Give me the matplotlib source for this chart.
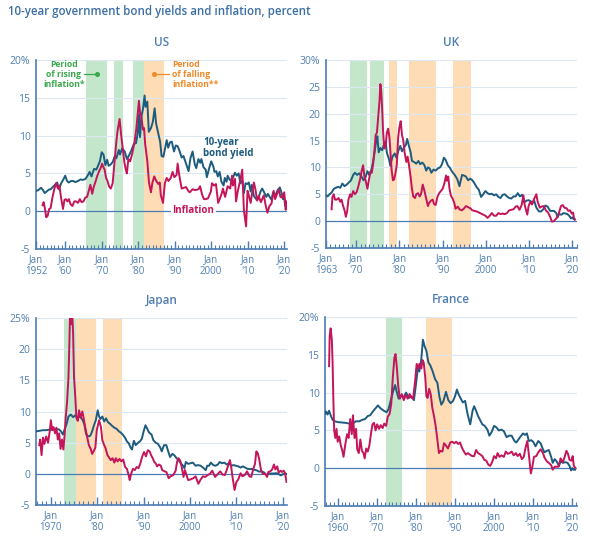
import matplotlib
matplotlib.use("Agg")
import matplotlib.pyplot as plt
from matplotlib.ticker import MultipleLocator

plt.rcParams['font.family'] = ['Open Sans', 'DejaVu Sans']

# ================= COLOURS =================
YIELD_C = "#1d5b7f"
INFL_C = "#c4145a"
GREEN_C = "#c4e7cb"
ORANGE_C = "#fddcb6"
AXIS_C = "#4b7cb3"
GRID_C = "#dde7f2"
TEXT_C = "#4f7eb2"

# ================= DATA =================
# (year, percent) points
us_yield = [(1952.0, 2.7), (1952.5, 2.75), (1953.4, 3.1), (1953.9, 2.8), (1954.4, 2.4), (1954.9, 2.6),
            (1955.5, 2.85), (1956.0, 2.9), (1956.6, 3.2), (1957.2, 3.5), (1957.8, 3.8), (1958.3, 2.9),
            (1958.9, 3.7), (1959.5, 4.2), (1960.0, 4.7), (1960.5, 4.0), (1961.0, 3.8), (1961.6, 4.0),
            (1962.2, 4.0), (1962.8, 3.85), (1963.5, 4.0), (1964.2, 4.2), (1964.8, 4.15), (1965.5, 4.25),
            (1966.0, 4.6), (1966.7, 5.2), (1967.2, 4.6), (1967.9, 5.6), (1968.5, 5.5), (1968.9, 5.9),
            (1969.5, 6.6), (1970.0, 7.8), (1970.5, 7.5), (1971.0, 6.1), (1971.5, 6.8), (1971.9, 6.0),
            (1972.5, 6.2), (1973.0, 6.5), (1973.6, 7.3), (1974.0, 7.0), (1974.7, 8.1), (1975.0, 7.5),
            (1975.6, 8.3), (1976.3, 7.9), (1976.9, 6.9), (1977.5, 7.4), (1978.0, 7.9), (1978.8, 8.9),
            (1979.4, 9.0), (1979.9, 10.4), (1980.2, 12.8), (1980.5, 9.8), (1980.9, 12.6), (1981.3, 13.5),
            (1981.75, 15.3), (1982.0, 13.8), (1982.5, 14.5), (1982.9, 10.5), (1983.5, 11.0), (1984.0, 11.8),
            (1984.5, 13.6), (1984.9, 11.6), (1985.5, 10.3), (1986.0, 9.2), (1986.4, 7.3), (1986.9, 7.2),
            (1987.4, 8.4), (1987.8, 9.4), (1988.2, 8.4), (1988.7, 9.1), (1989.2, 9.2), (1989.8, 7.9),
            (1990.3, 8.7), (1990.8, 8.6), (1991.3, 8.0), (1991.9, 7.1), (1992.4, 7.3), (1992.9, 6.6),
            (1993.5, 5.8), (1993.8, 5.3), (1994.3, 7.0), (1994.9, 7.9), (1995.5, 6.2), (1995.9, 5.7),
            (1996.5, 6.9), (1997.0, 6.4), (1997.3, 6.9), (1997.9, 5.8), (1998.5, 5.5), (1998.8, 4.5),
            (1999.5, 5.8), (2000.0, 6.6), (2000.6, 5.9), (2000.9, 5.2), (2001.4, 5.3), (2001.8, 4.6),
            (2002.3, 5.2), (2002.8, 3.9), (2003.4, 3.4), (2003.7, 4.4), (2004.2, 3.9), (2004.5, 4.7),
            (2005.0, 4.2), (2005.5, 4.0), (2006.0, 4.5), (2006.5, 5.1), (2007.0, 4.7), (2007.5, 5.0),
            (2008.0, 3.7), (2008.5, 4.1), (2008.95, 2.4), (2009.4, 3.7), (2009.9, 3.6), (2010.3, 3.8),
            (2010.8, 2.6), (2011.1, 3.5), (2011.7, 2.0), (2012.5, 1.5), (2012.9, 1.7), (2013.5, 2.6),
            (2013.95, 3.0), (2014.5, 2.5), (2015.1, 1.9), (2015.5, 2.3), (2016.5, 1.5), (2016.95, 2.5),
            (2017.7, 2.2), (2018.2, 2.8), (2018.8, 3.15), (2019.3, 2.4), (2019.65, 1.6), (2020.0, 1.8),
            (2020.25, 0.7), (2020.5, 0.65)]

us_infl = [(1953.8, 0.8), (1954.1, 1.2), (1954.5, 0.2), (1954.8, -0.8), (1955.2, -0.6), (1955.6, 0.3),
           (1956.0, 0.4), (1956.5, 1.8), (1957.0, 2.9), (1957.5, 3.7), (1958.0, 3.0), (1958.4, 3.4),
           (1958.9, 1.7), (1959.4, 0.3), (1959.8, 1.5), (1960.2, 1.6), (1960.6, 1.3), (1961.0, 1.6),
           (1961.5, 0.9), (1962.0, 0.7), (1962.5, 1.3), (1963.0, 1.3), (1963.5, 1.1), (1964.0, 1.6),
           (1964.5, 1.2), (1965.0, 1.3), (1965.5, 1.8), (1966.0, 1.9), (1966.5, 2.8), (1966.9, 3.5),
           (1967.4, 2.3), (1967.8, 3.2), (1968.3, 3.9), (1968.8, 4.7), (1969.3, 5.3), (1969.8, 5.8),
           (1970.1, 6.3), (1970.5, 5.8), (1970.8, 5.5), (1971.2, 4.4), (1971.6, 4.0), (1972.0, 3.3),
           (1972.5, 3.0), (1973.0, 3.7), (1973.4, 5.8), (1973.7, 7.5), (1973.95, 8.9), (1974.3, 10.5),
           (1974.9, 12.2), (1975.3, 10.2), (1975.7, 8.6), (1976.2, 6.5), (1976.6, 5.5), (1976.9, 5.0),
           (1977.3, 6.9), (1977.8, 6.6), (1978.3, 7.5), (1978.95, 9.0), (1979.5, 11.0), (1979.95, 13.3),
           (1980.2, 14.6), (1980.5, 13.0), (1980.8, 12.7), (1981.3, 10.8), (1981.6, 11.0), (1981.9, 8.9),
           (1982.5, 6.6), (1982.95, 3.8), (1983.5, 2.5), (1983.9, 3.8), (1984.4, 4.6), (1984.95, 4.0),
           (1985.5, 3.6), (1985.9, 3.8), (1986.2, 2.1), (1986.8, 1.1), (1987.3, 3.7), (1987.8, 4.4),
           (1988.3, 4.0), (1988.9, 4.4), (1989.4, 5.2), (1989.9, 4.5), (1990.5, 4.8), (1990.8, 6.3),
           (1991.2, 4.9), (1991.9, 3.0), (1992.5, 3.1), (1993.1, 3.2), (1993.7, 2.7), (1994.1, 2.5),
           (1994.9, 2.9), (1995.6, 2.8), (1996.5, 2.9), (1996.95, 3.3), (1997.5, 2.2), (1998.0, 1.6),
           (1998.5, 1.6), (1999.1, 1.7), (1999.9, 2.6), (2000.2, 3.7), (2000.8, 3.4), (2001.3, 3.6),
           (2001.9, 1.1), (2002.4, 1.7), (2002.9, 2.4), (2003.2, 3.0), (2003.8, 1.9), (2004.5, 3.3),
           (2005.2, 3.0), (2005.7, 4.7), (2005.95, 3.4), (2006.5, 4.3), (2006.8, 1.3), (2007.3, 2.7),
           (2007.95, 4.1), (2008.5, 5.5), (2008.95, 0.1), (2009.55, -2.0), (2009.95, 2.7), (2010.3, 2.1),
           (2010.8, 1.1), (2011.3, 2.7), (2011.7, 3.8), (2012.1, 2.9), (2012.6, 1.4), (2013.0, 2.0),
           (2013.6, 1.2), (2014.4, 2.1), (2014.9, 0.8), (2015.4, -0.2), (2015.95, 0.7), (2016.5, 1.0),
           (2017.1, 2.7), (2017.5, 1.6), (2017.95, 2.2), (2018.5, 2.9), (2018.95, 1.9), (2019.5, 1.8),
           (2020.0, 2.5), (2020.4, 0.2), (2020.65, 1.3)]

uk_yield = [(1963.0, 4.8), (1963.4, 4.6), (1963.8, 5.0), (1964.3, 5.3), (1964.8, 6.0), (1965.3, 6.2),
            (1965.8, 6.4), (1966.3, 6.2), (1966.8, 7.0), (1967.3, 6.5), (1967.8, 6.8), (1968.3, 7.2),
            (1968.8, 7.6), (1969.3, 8.6), (1969.7, 9.0), (1970.2, 8.6), (1970.7, 8.9), (1971.2, 8.3),
            (1971.7, 7.6), (1972.2, 8.3), (1972.6, 9.3), (1973.0, 8.6), (1973.5, 9.5), (1973.9, 11.0),
            (1974.2, 12.5), (1974.6, 14.8), (1974.9, 15.8), (1975.2, 12.8), (1975.6, 13.6), (1976.0, 13.2),
            (1976.4, 14.2), (1976.8, 14.8), (1977.1, 12.7), (1977.6, 11.5), (1977.9, 10.3), (1978.4, 12.0),
            (1978.9, 12.6), (1979.3, 11.8), (1979.8, 13.2), (1980.2, 14.0), (1980.6, 13.0), (1981.0, 13.6),
            (1981.5, 14.2), (1981.8, 15.3), (1982.2, 14.0), (1982.6, 12.8), (1982.9, 11.2), (1983.4, 11.0),
            (1983.9, 10.7), (1984.4, 11.2), (1984.8, 10.6), (1985.3, 10.9), (1985.8, 10.4), (1986.2, 9.4),
            (1986.6, 10.0), (1987.0, 9.8), (1987.4, 9.0), (1987.9, 9.6), (1988.4, 9.4), (1988.9, 9.8),
            (1989.4, 10.0), (1989.8, 10.5), (1990.3, 11.8), (1990.7, 11.4), (1991.2, 10.4), (1991.7, 9.9),
            (1992.2, 9.2), (1992.8, 8.6), (1993.4, 7.8), (1993.9, 6.5), (1994.5, 8.6), (1994.9, 8.5),
            (1995.4, 8.3), (1995.9, 7.6), (1996.4, 7.9), (1996.9, 7.6), (1997.4, 7.0), (1997.9, 6.3),
            (1998.4, 5.8), (1998.9, 4.5), (1999.4, 5.0), (1999.9, 5.6), (2000.4, 5.2), (2000.9, 5.0),
            (2001.4, 5.1), (2001.9, 4.8), (2002.4, 5.0), (2002.9, 4.5), (2003.4, 4.3), (2003.9, 4.9),
            (2004.4, 5.0), (2004.9, 4.6), (2005.4, 4.3), (2005.9, 4.2), (2006.4, 4.6), (2006.9, 4.6),
            (2007.4, 5.2), (2007.9, 4.6), (2008.4, 4.9), (2008.9, 3.5), (2009.4, 3.8), (2009.9, 3.9),
            (2010.4, 3.7), (2010.8, 3.4), (2011.2, 3.8), (2011.7, 2.5), (2012.3, 1.8), (2012.8, 1.8),
            (2013.3, 2.2), (2013.8, 2.9), (2014.3, 2.7), (2014.9, 1.9), (2015.3, 1.9), (2015.8, 1.9),
            (2016.3, 1.5), (2016.6, 0.7), (2016.95, 1.3), (2017.5, 1.2), (2018.0, 1.5), (2018.5, 1.4),
            (2018.9, 1.3), (2019.4, 0.9), (2019.7, 0.5), (2020.0, 0.7), (2020.3, 0.4), (2020.6, 0.3)]

uk_infl = [(1964.3, 2.2), (1964.5, 4.5), (1964.8, 5.0), (1965.1, 4.0), (1965.5, 4.0), (1965.9, 4.3),
           (1966.3, 3.6), (1966.6, 4.0), (1966.9, 3.0), (1967.3, 2.0), (1967.6, 0.8), (1967.9, 1.8),
           (1968.2, 4.0), (1968.6, 5.0), (1968.9, 4.5), (1969.3, 5.6), (1969.7, 5.0), (1970.1, 5.4),
           (1970.5, 6.5), (1970.9, 7.8), (1971.3, 9.5), (1971.6, 10.4), (1971.9, 8.2), (1972.2, 7.5),
           (1972.6, 6.0), (1972.9, 7.5), (1973.3, 9.2), (1973.6, 9.0), (1973.9, 10.5), (1974.2, 13.0),
           (1974.5, 16.0), (1974.8, 16.5), (1975.1, 19.5), (1975.4, 22.5), (1975.6, 25.5), (1975.8, 24.0),
           (1976.0, 21.0), (1976.2, 17.0), (1976.5, 13.5), (1976.8, 14.0), (1977.1, 16.5), (1977.4, 17.2),
           (1977.7, 15.5), (1977.9, 13.0), (1978.2, 9.5), (1978.5, 7.6), (1978.8, 7.8), (1979.1, 9.0),
           (1979.4, 10.5), (1979.7, 15.5), (1980.0, 17.5), (1980.3, 18.6), (1980.6, 16.0), (1980.9, 15.0),
           (1981.2, 12.8), (1981.6, 11.0), (1981.9, 12.0), (1982.2, 10.5), (1982.6, 8.2), (1982.9, 6.0),
           (1983.2, 4.6), (1983.6, 4.3), (1983.9, 5.0), (1984.3, 5.2), (1984.7, 4.6), (1985.0, 5.0),
           (1985.4, 6.8), (1985.8, 5.6), (1986.2, 4.2), (1986.6, 2.8), (1986.9, 3.4), (1987.3, 3.8),
           (1987.7, 4.0), (1988.0, 3.2), (1988.4, 3.0), (1988.8, 4.5), (1989.2, 5.2), (1989.6, 5.6),
           (1990.0, 6.0), (1990.4, 7.0), (1990.8, 8.5), (1991.0, 7.5), (1991.3, 8.3), (1991.6, 6.0),
           (1991.9, 4.8), (1992.3, 4.2), (1992.7, 3.4), (1993.0, 2.3), (1993.5, 2.7), (1993.9, 2.2),
           (1994.4, 2.0), (1994.9, 2.3), (1995.4, 2.8), (1995.9, 2.6), (1996.4, 2.4), (1996.9, 2.0),
           (1997.4, 1.9), (1997.9, 1.8), (1998.4, 1.6), (1998.9, 1.4), (1999.4, 1.2), (1999.9, 1.0),
           (2000.4, 0.6), (2000.9, 1.0), (2001.4, 1.5), (2001.9, 1.0), (2002.4, 1.0), (2002.9, 1.5),
           (2003.4, 1.3), (2003.9, 1.4), (2004.4, 1.3), (2004.9, 1.5), (2005.4, 2.0), (2005.9, 2.1),
           (2006.4, 2.2), (2006.9, 2.7), (2007.3, 2.8), (2007.8, 2.1), (2008.3, 3.0), (2008.7, 4.8),
           (2009.0, 3.0), (2009.6, 1.2), (2009.9, 2.8), (2010.3, 3.6), (2010.7, 3.1), (2011.1, 4.0),
           (2011.7, 5.0), (2012.0, 3.6), (2012.5, 2.5), (2012.9, 2.7), (2013.4, 2.8), (2013.9, 2.0),
           (2014.4, 1.6), (2014.9, 0.8), (2015.3, -0.1), (2015.8, 0.0), (2016.2, 0.4), (2016.6, 0.8),
           (2016.95, 1.6), (2017.4, 2.8), (2017.8, 3.0), (2018.2, 2.5), (2018.7, 2.4), (2019.1, 1.9),
           (2019.5, 2.0), (2019.9, 1.4), (2020.2, 1.6), (2020.4, 0.6), (2020.6, 0.3)]

jp_yield = [(1966.8, 6.8), (1967.5, 6.9), (1968.3, 7.0), (1969.0, 7.0), (1969.8, 7.1), (1970.5, 7.1),
            (1971.2, 7.2), (1971.8, 7.1), (1972.2, 6.8), (1972.6, 6.3), (1973.0, 7.2), (1973.4, 8.0),
            (1973.8, 9.2), (1974.3, 9.5), (1974.8, 9.1), (1975.3, 9.4), (1975.8, 9.0), (1976.3, 9.2),
            (1976.8, 8.7), (1977.2, 8.0), (1977.6, 6.4), (1978.0, 6.0), (1978.5, 6.1), (1978.9, 6.8),
            (1979.3, 7.8), (1979.7, 8.6), (1980.1, 10.2), (1980.4, 9.2), (1980.7, 8.8), (1981.1, 9.2),
            (1981.5, 8.4), (1981.9, 8.9), (1982.3, 8.3), (1982.8, 8.0), (1983.2, 7.7), (1983.7, 7.4),
            (1984.2, 7.2), (1984.7, 6.8), (1985.1, 6.6), (1985.5, 6.3), (1986.0, 5.8), (1986.4, 5.2),
            (1986.8, 4.9), (1987.2, 4.2), (1987.5, 3.9), (1987.9, 5.3), (1988.3, 4.6), (1988.8, 5.0),
            (1989.2, 5.2), (1989.6, 5.6), (1990.0, 6.8), (1990.4, 7.8), (1990.8, 7.2), (1991.2, 6.6),
            (1991.7, 6.3), (1992.1, 5.4), (1992.6, 5.0), (1993.1, 4.8), (1993.6, 4.2), (1993.9, 3.6),
            (1994.4, 4.6), (1994.9, 4.6), (1995.3, 3.6), (1995.7, 2.7), (1996.2, 3.2), (1996.6, 3.0),
            (1997.0, 2.6), (1997.5, 2.2), (1998.0, 1.7), (1998.5, 1.3), (1998.8, 0.9), (1999.1, 1.9),
            (1999.6, 1.6), (2000.1, 1.7), (2000.6, 1.8), (2001.2, 1.3), (2001.7, 1.4), (2002.3, 1.3),
            (2002.8, 1.0), (2003.4, 0.6), (2003.7, 1.3), (2004.1, 1.3), (2004.5, 1.8), (2005.0, 1.4),
            (2005.5, 1.3), (2006.0, 1.5), (2006.4, 1.9), (2006.9, 1.7), (2007.4, 1.8), (2007.9, 1.5),
            (2008.4, 1.7), (2008.9, 1.3), (2009.4, 1.4), (2009.9, 1.3), (2010.4, 1.2), (2010.9, 1.0),
            (2011.4, 1.2), (2011.9, 1.0), (2012.4, 0.8), (2012.9, 0.75), (2013.4, 0.8), (2013.9, 0.65),
            (2014.4, 0.55), (2014.9, 0.35), (2015.4, 0.4), (2015.9, 0.25), (2016.3, -0.05), (2016.6, -0.2),
            (2016.95, 0.05), (2017.5, 0.05), (2018.0, 0.05), (2018.6, 0.1), (2019.0, 0.0), (2019.6, -0.25),
            (2020.0, -0.05), (2020.4, 0.0), (2020.8, 0.0)]

jp_infl = [(1967.5, 4.6), (1967.7, 5.5), (1968.0, 3.0), (1968.3, 5.8), (1968.6, 4.8), (1969.0, 6.0),
           (1969.4, 5.0), (1969.8, 7.0), (1970.0, 8.6), (1970.3, 7.0), (1970.6, 7.5), (1970.9, 6.5),
           (1971.2, 7.4), (1971.5, 5.5), (1971.8, 6.5), (1972.1, 4.0), (1972.4, 5.5), (1972.7, 3.9),
           (1973.0, 6.5), (1973.2, 9.0), (1973.5, 11.5), (1973.8, 15.5), (1974.0, 21.0), (1974.15, 26.0),
           (1974.4, 24.0), (1974.6, 26.0), (1974.8, 22.5), (1975.0, 15.5), (1975.3, 12.0), (1975.5, 9.0),
           (1975.8, 8.5), (1976.1, 10.2), (1976.4, 9.0), (1976.8, 10.0), (1977.1, 8.8), (1977.4, 7.5),
           (1977.8, 6.0), (1978.2, 4.6), (1978.6, 4.0), (1978.9, 3.2), (1979.2, 3.6), (1979.6, 4.2),
           (1979.9, 7.0), (1980.2, 8.0), (1980.4, 8.6), (1980.8, 7.5), (1981.1, 5.4), (1981.5, 4.6),
           (1981.8, 4.1), (1982.2, 3.0), (1982.5, 2.7), (1982.9, 2.2), (1983.3, 2.5), (1983.7, 1.8),
           (1984.0, 2.5), (1984.4, 2.0), (1984.8, 2.4), (1985.2, 2.0), (1985.6, 2.3), (1986.0, 1.1),
           (1986.4, 0.8), (1986.8, -0.3), (1987.0, -1.0), (1987.3, 0.0), (1987.7, 0.8), (1988.1, 0.6),
           (1988.5, 1.1), (1988.9, 0.9), (1989.3, 1.7), (1989.7, 2.8), (1990.1, 3.5), (1990.5, 2.8),
           (1990.9, 3.8), (1991.3, 3.6), (1991.6, 3.0), (1991.9, 2.6), (1992.3, 1.9), (1992.6, 1.7),
           (1992.9, 1.2), (1993.3, 1.5), (1993.7, 1.3), (1994.0, 0.6), (1994.5, 0.4), (1994.9, 0.3),
           (1995.4, -0.7), (1995.8, -0.4), (1996.4, -0.2), (1996.9, 0.5), (1997.2, 1.9), (1997.5, 2.5),
           (1997.9, 2.1), (1998.2, 1.1), (1998.6, -0.5), (1998.9, 0.6), (1999.3, -0.3), (1999.6, -1.0),
           (2000.1, -0.9), (2000.7, -0.7), (2001.2, -0.4), (2001.8, -1.6), (2002.3, -0.9), (2002.8, -0.4),
           (2003.3, -0.5), (2003.8, -0.2), (2004.3, 0.0), (2004.8, 0.5), (2005.4, -0.5), (2005.9, -0.1),
           (2006.5, 0.4), (2007.0, -0.1), (2007.5, -0.2), (2007.9, 0.6), (2008.3, 1.5), (2008.6, 2.2),
           (2008.9, 1.0), (2009.1, -0.2), (2009.6, -2.6), (2010.0, -1.3), (2010.4, -0.9), (2010.9, 0.1),
           (2011.3, -0.4), (2011.8, -0.2), (2012.3, 0.4), (2012.8, -0.4), (2013.2, -0.5), (2013.6, 0.7),
           (2014.0, 1.6), (2014.3, 3.6), (2014.6, 3.3), (2014.9, 2.4), (2015.3, 0.6), (2015.7, 0.0),
           (2016.2, 0.0), (2016.6, -0.5), (2016.9, 0.3), (2017.3, 0.4), (2017.7, 0.7), (2018.1, 1.5),
           (2018.4, 0.7), (2018.8, 1.2), (2019.1, 0.2), (2019.5, 0.5), (2019.8, 0.3), (2020.2, 0.5),
           (2020.5, 0.1), (2020.8, -1.3)]

fr_yield = [(1956.75, 7.2), (1957.0, 7.5), (1957.4, 7.1), (1957.8, 7.6), (1958.2, 7.0), (1958.7, 6.4),
            (1959.3, 6.2), (1960.0, 6.1), (1961.0, 6.05), (1962.0, 6.0), (1963.0, 5.9), (1964.0, 5.95),
            (1964.6, 6.2), (1965.5, 6.2), (1966.3, 6.4), (1967.0, 6.5), (1967.7, 6.9), (1968.3, 7.0),
            (1969.0, 7.5), (1969.8, 8.0), (1970.3, 8.3), (1971.0, 7.9), (1971.8, 7.6), (1972.5, 7.4),
            (1973.0, 7.8), (1973.6, 9.0), (1974.2, 10.2), (1974.7, 11.0), (1975.1, 10.1), (1975.6, 9.2),
            (1976.2, 9.6), (1976.9, 9.4), (1977.5, 10.0), (1978.2, 9.3), (1978.9, 9.5), (1979.5, 9.0),
            (1980.0, 11.0), (1980.5, 13.2), (1980.9, 12.8), (1981.4, 14.5), (1981.8, 17.0), (1982.2, 16.2),
            (1982.7, 15.5), (1983.2, 14.0), (1983.7, 13.6), (1984.3, 12.8), (1984.9, 11.8), (1985.5, 11.3),
            (1986.0, 9.5), (1986.5, 8.4), (1987.0, 8.8), (1987.7, 10.1), (1988.3, 9.0), (1988.9, 8.6),
            (1989.5, 8.9), (1990.0, 9.5), (1990.5, 10.4), (1990.9, 9.8), (1991.5, 9.2), (1992.0, 8.7),
            (1992.6, 8.9), (1993.2, 7.2), (1993.9, 5.8), (1994.5, 7.6), (1994.9, 8.2), (1995.4, 7.6),
            (1995.9, 6.9), (1996.5, 6.3), (1997.0, 5.8), (1997.6, 5.6), (1998.3, 5.1), (1998.8, 4.3),
            (1999.4, 4.8), (2000.0, 5.6), (2000.6, 5.4), (2001.2, 5.0), (2001.9, 5.1), (2002.5, 4.9),
            (2003.2, 4.1), (2003.8, 4.3), (2004.5, 4.3), (2005.2, 3.6), (2005.7, 3.4), (2006.5, 4.0),
            (2007.4, 4.6), (2007.9, 4.4), (2008.4, 4.6), (2008.9, 3.6), (2009.5, 3.7), (2010.0, 3.5),
            (2010.6, 2.9), (2011.3, 3.6), (2011.9, 3.3), (2012.5, 2.5), (2012.9, 2.1), (2013.5, 2.3),
            (2014.0, 2.4), (2014.6, 1.5), (2015.0, 0.7), (2015.5, 1.2), (2016.0, 0.9), (2016.6, 0.3),
            (2017.0, 0.9), (2017.6, 0.7), (2018.2, 0.8), (2018.8, 0.7), (2019.3, 0.3), (2019.7, -0.3),
            (2020.0, 0.0), (2020.3, -0.2), (2020.7, -0.2)]

fr_infl = [(1957.8, 13.5), (1957.95, 17.5), (1958.2, 18.5), (1958.5, 17.0), (1958.7, 14.0), (1958.9, 9.0),
           (1959.1, 5.0), (1959.4, 4.0), (1959.7, 5.2), (1960.0, 3.5), (1960.4, 4.2), (1960.8, 3.0),
           (1961.2, 2.3), (1961.5, 1.5), (1961.9, 3.0), (1962.4, 4.5), (1962.8, 4.0), (1963.2, 6.5),
           (1963.6, 4.5), (1963.9, 7.0), (1964.3, 4.0), (1964.7, 5.2), (1965.0, 2.5), (1965.4, 2.0),
           (1965.8, 3.8), (1966.2, 2.3), (1966.6, 2.0), (1966.9, 1.3), (1967.3, 2.6), (1967.7, 2.2),
           (1968.1, 3.0), (1968.5, 4.5), (1968.9, 5.8), (1969.3, 6.0), (1969.7, 5.0), (1970.1, 5.8),
           (1970.6, 5.2), (1971.0, 5.7), (1971.5, 5.3), (1971.9, 5.9), (1972.4, 5.6), (1972.8, 6.8),
           (1973.3, 7.2), (1973.7, 8.5), (1974.1, 12.0), (1974.5, 14.6), (1974.8, 15.1), (1975.1, 13.5),
           (1975.5, 10.8), (1975.9, 9.2), (1976.4, 9.8), (1976.9, 9.0), (1977.4, 9.7), (1977.9, 9.2),
           (1978.4, 9.8), (1978.9, 9.3), (1979.3, 9.2), (1979.8, 11.5), (1980.2, 13.8), (1980.6, 13.2),
           (1980.9, 13.8), (1981.4, 13.2), (1981.7, 14.3), (1982.0, 14.0), (1982.4, 12.0), (1982.7, 9.5),
           (1983.0, 9.3), (1983.4, 10.5), (1983.8, 9.8), (1984.2, 8.0), (1984.6, 7.0), (1985.0, 5.8),
           (1985.4, 4.2), (1985.9, 2.0), (1986.3, 2.3), (1986.8, 2.2), (1987.2, 3.3), (1987.7, 3.0),
           (1988.2, 2.6), (1988.8, 3.4), (1989.3, 3.5), (1989.8, 3.3), (1990.3, 3.5), (1990.8, 3.2),
           (1991.3, 3.4), (1991.8, 2.7), (1992.3, 2.2), (1992.8, 1.8), (1993.3, 2.0), (1993.8, 1.8),
           (1994.4, 1.6), (1994.9, 1.6), (1995.4, 2.4), (1995.9, 2.0), (1996.5, 1.8), (1997.0, 1.6),
           (1997.5, 1.1), (1998.0, 1.0), (1998.5, 0.5), (1999.0, 0.3), (1999.5, 0.8), (2000.0, 1.6),
           (2000.5, 1.3), (2000.9, 2.0), (2001.4, 1.5), (2001.9, 1.7), (2002.5, 1.5), (2003.0, 2.2),
           (2003.5, 1.9), (2004.0, 2.0), (2004.5, 2.2), (2005.0, 1.7), (2005.6, 2.0), (2006.0, 1.6),
           (2006.6, 1.9), (2007.1, 1.2), (2007.6, 1.5), (2008.0, 2.6), (2008.5, 3.6), (2008.9, 1.8),
           (2009.4, -0.7), (2009.8, 0.2), (2010.2, 1.5), (2010.8, 1.6), (2011.3, 2.1), (2011.9, 2.5),
           (2012.5, 2.0), (2012.9, 1.4), (2013.5, 0.9), (2014.0, 0.7), (2014.6, 0.4), (2015.0, -0.2),
           (2015.5, 0.2), (2016.0, 0.2), (2016.5, 0.2), (2017.0, 1.3), (2017.6, 0.8), (2018.0, 1.4),
           (2018.5, 2.3), (2018.9, 1.9), (2019.3, 1.1), (2019.8, 1.0), (2020.1, 1.6), (2020.4, 0.3),
           (2020.7, 0.1)]

# shaded periods (start, end)
us_rising = [(1965.6, 1971.4), (1973.5, 1975.9), (1978.6, 1981.5)]
us_falling = [(1981.5, 1987.2)]
uk_rising = [(1968.6, 1972.6), (1973.1, 1976.5)]
uk_falling = [(1977.6, 1979.5), (1982.3, 1988.5), (1992.5, 1996.5)]
jp_rising = [(1972.9, 1975.5)]
jp_falling = [(1975.5, 1979.8), (1981.3, 1985.4)]
fr_rising = [(1972.35, 1976.4)]
fr_falling = [(1982.5, 1989.2)]

# tick labels
us_years = [1952, 1960, 1970, 1980, 1990, 2000, 2010, 2020]
us_labels = ["1952", "'60", "'70", "'80", "'90", "2000", "'10", "'20"]
uk_years = [1963, 1970, 1980, 1990, 2000, 2010, 2020]
uk_labels = ["1963", "'70", "'80", "'90", "2000", "'10", "'20"]
jp_years = [1970, 1980, 1990, 2000, 2010, 2020]
jp_labels = ["1970", "'80", "'90", "2000", "'10", "'20"]
fr_years = [1960, 1970, 1980, 1990, 2000, 2010, 2020]
fr_labels = ["1960", "'70", "'80", "'90", "2000", "'10", "'20"]

# ================= FIGURE =================
fig = plt.figure(figsize=(5.9, 5.45), dpi=100)
fig.text(0.013, 0.978, "10-year government bond yields and inflation, percent",
         color="#3b6ea5", fontsize=8.3, fontweight="semibold", va="center", ha="left")


def draw_panel(rect, title, xlim, ymax, yld, infl, rising, falling, years, labels):
    ax = fig.add_axes(rect)
    ax.set_xlim(*xlim)
    ax.set_ylim(-5, ymax)

    for a, b in rising:
        ax.axvspan(a, b, color=GREEN_C, lw=0, zorder=0)
    for a, b in falling:
        ax.axvspan(a, b, color=ORANGE_C, lw=0, zorder=0)

    yt = list(range(-5, ymax + 1, 5))
    for v in yt[1:]:
        if v != 0:
            ax.axhline(v, color=GRID_C, lw=0.8, zorder=1)
    ax.axhline(0, color=AXIS_C, lw=0.9, zorder=1)

    ax.plot([p[0] for p in yld], [p[1] for p in yld], color=YIELD_C, lw=1.4, zorder=3)
    ax.plot([p[0] for p in infl], [p[1] for p in infl], color=INFL_C, lw=1.4, zorder=3)

    ax.set_yticks(yt)
    ax.set_yticklabels([f"{v}%" if v == ymax else str(v) for v in yt])
    ax.tick_params(axis="y", length=0, pad=4, labelsize=7.5, labelcolor=TEXT_C)

    ax.set_xticks(years)
    ax.set_xticklabels(["Jan\n" + s for s in labels], linespacing=1.0)
    ax.xaxis.set_minor_locator(MultipleLocator(1))
    ax.tick_params(axis="x", which="major", direction="in", length=6, width=1.0,
                   color=AXIS_C, pad=4, labelsize=7, labelcolor=TEXT_C)
    ax.tick_params(axis="x", which="minor", direction="in", length=3.2, width=0.8, color=AXIS_C)

    for s in ["top", "right"]:
        ax.spines[s].set_visible(False)
    for s in ["left", "bottom"]:
        ax.spines[s].set_color(AXIS_C)
        ax.spines[s].set_linewidth(1.2)
    ax.set_title(title, color=TEXT_C, fontsize=8.5, fontweight="semibold", pad=10)
    return ax


ax_us = draw_panel([0.061, 0.543, 0.4254, 0.347], "US", (1952, 2020.75), 20,
                   us_yield, us_infl, us_rising, us_falling, us_years, us_labels)
ax_uk = draw_panel([0.5525, 0.545, 0.4254, 0.345], "UK", (1963, 2021.1), 30,
                   uk_yield, uk_infl, uk_rising, uk_falling, uk_years, uk_labels)
ax_jp = draw_panel([0.061, 0.0734, 0.4254, 0.3431], "Japan", (1966.8, 2020.9), 25,
                   jp_yield, jp_infl, jp_rising, jp_falling, jp_years, jp_labels)
ax_fr = draw_panel([0.5508, 0.0716, 0.4271, 0.3467], "France", (1956.75, 2021.2), 20,
                   fr_yield, fr_infl, fr_rising, fr_falling, fr_years, fr_labels)

# ================= US ANNOTATIONS =================
GREEN_T = "#3aa84c"
ORANGE_T = "#f0892a"
ax_us.text(1959.6, 18.1, "Period\nof rising\ninflation*", color=GREEN_T, fontsize=6.2,
           fontweight="bold", ha="center", va="center", linespacing=1.1, zorder=5)
ax_us.plot([1965.1, 1968.6], [18.15, 18.15], color=GREEN_T, lw=0.9, zorder=5)
ax_us.plot([1968.6], [18.15], "o", color=GREEN_T, ms=2.6, zorder=5)

ax_us.text(1989.3, 18.1, "Period\nof falling\ninflation**", color=ORANGE_T, fontsize=6.2,
           fontweight="bold", ha="left", va="center", linespacing=1.1, zorder=5)
ax_us.plot([1984.2, 1988.3], [18.15, 18.15], color=ORANGE_T, lw=0.9, zorder=5)
ax_us.plot([1984.2], [18.15], "o", color=ORANGE_T, ms=2.6, zorder=5)

ax_us.text(1997.8, 8.4, "10-year\nbond yield", color=YIELD_C, fontsize=7.0,
           fontweight="bold", ha="left", va="center", linespacing=1.0, zorder=5)
ax_us.text(1989.4, 0.15, "Inflation", color=INFL_C, fontsize=7.0, fontweight="bold",
           ha="left", va="center", zorder=4,
           bbox=dict(facecolor="white", edgecolor="none", pad=1.0))

fig.savefig("out.png", dpi=100)
